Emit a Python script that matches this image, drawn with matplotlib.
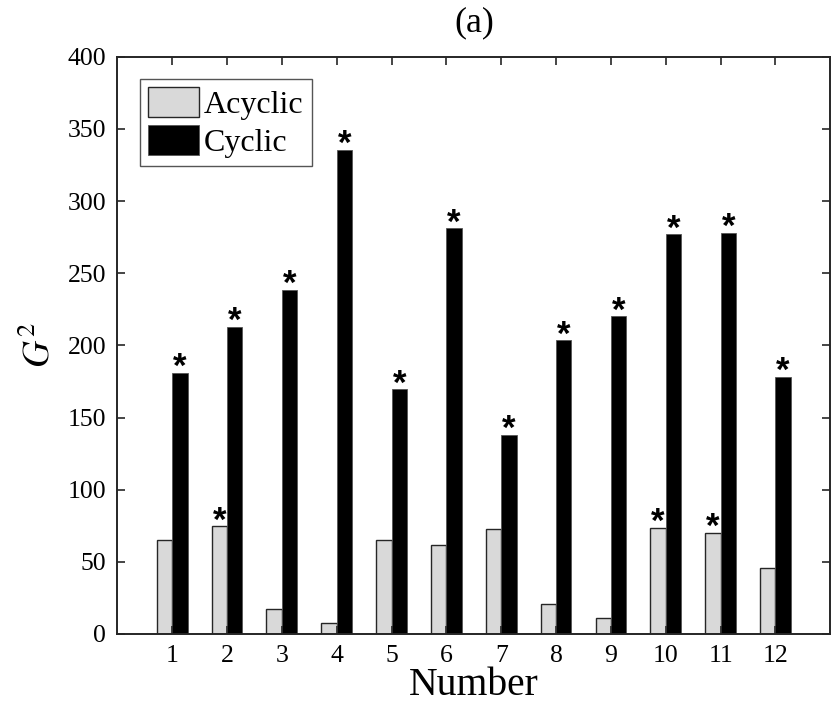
import numpy as np
import matplotlib
matplotlib.use('Agg')
from matplotlib import pyplot as plt

# data
numbers = np.arange(1, 13)
acyclic = [65, 74.5, 17, 7.5, 65, 62, 72.5, 20.5, 11, 73.5, 70, 45.5]
cyclic = [181, 213, 238.5, 335.5, 169.5, 281, 138, 203.5, 220, 277, 278, 178]
acyclic_sig = [False, True, False, False, False, False, False, False, False, True, True, False]
cyclic_sig = [True] * 12

plt.rcParams['font.family'] = ['Liberation Serif', 'DejaVu Serif']
plt.rcParams['mathtext.fontset'] = 'stix'

fig = plt.figure(figsize=(8.32, 7.15), dpi=100)
ax = fig.add_axes([0.141, 0.1133, 0.857, 0.8074])

w = 0.28
ax.bar(numbers - w / 2, acyclic, w, color='#d9d9d9', edgecolor='#262626', linewidth=1.0, label='Acyclic')
ax.bar(numbers + w / 2, cyclic, w, color='black', edgecolor='#555555', linewidth=0.6, label='Cyclic')

# significance stars
star_kw = dict(xytext=(0, -3), textcoords='offset points', ha='center', va='baseline',
               fontsize=25, fontweight='bold', family='Liberation Sans')
for x, v, s in zip(numbers - w / 2, acyclic, acyclic_sig):
    if s:
        ax.annotate('*', (x, v), **star_kw)
for x, v, s in zip(numbers + w / 2, cyclic, cyclic_sig):
    if s:
        ax.annotate('*', (x, v), **star_kw)

ax.set_xlim(0, 13)
ax.set_ylim(0, 400)
ax.set_xticks(numbers)
ax.set_yticks(np.arange(0, 401, 50))
ax.tick_params(direction='in', length=6, width=1.2, top=True, right=True, labelsize=18.5, color='#262626', pad=8)
for sp in ax.spines.values():
    sp.set_linewidth(1.4)
    sp.set_color('#262626')

ax.set_xlabel('Number', fontsize=28.5, labelpad=0)
ax.set_ylabel('$G^2$', fontsize=27, labelpad=7)
ax.set_title('(a)', fontsize=26, pad=18)

leg = ax.legend(loc='upper left', bbox_to_anchor=(0.032, 0.962), fontsize=23, fancybox=False, framealpha=1,
                edgecolor='#555555', handlelength=1.6, handleheight=1.1, handletextpad=0.15,
                borderpad=0.25, labelspacing=0.15, borderaxespad=0)
leg.get_frame().set_linewidth(1.0)

fig.savefig('out.png', dpi=100)
